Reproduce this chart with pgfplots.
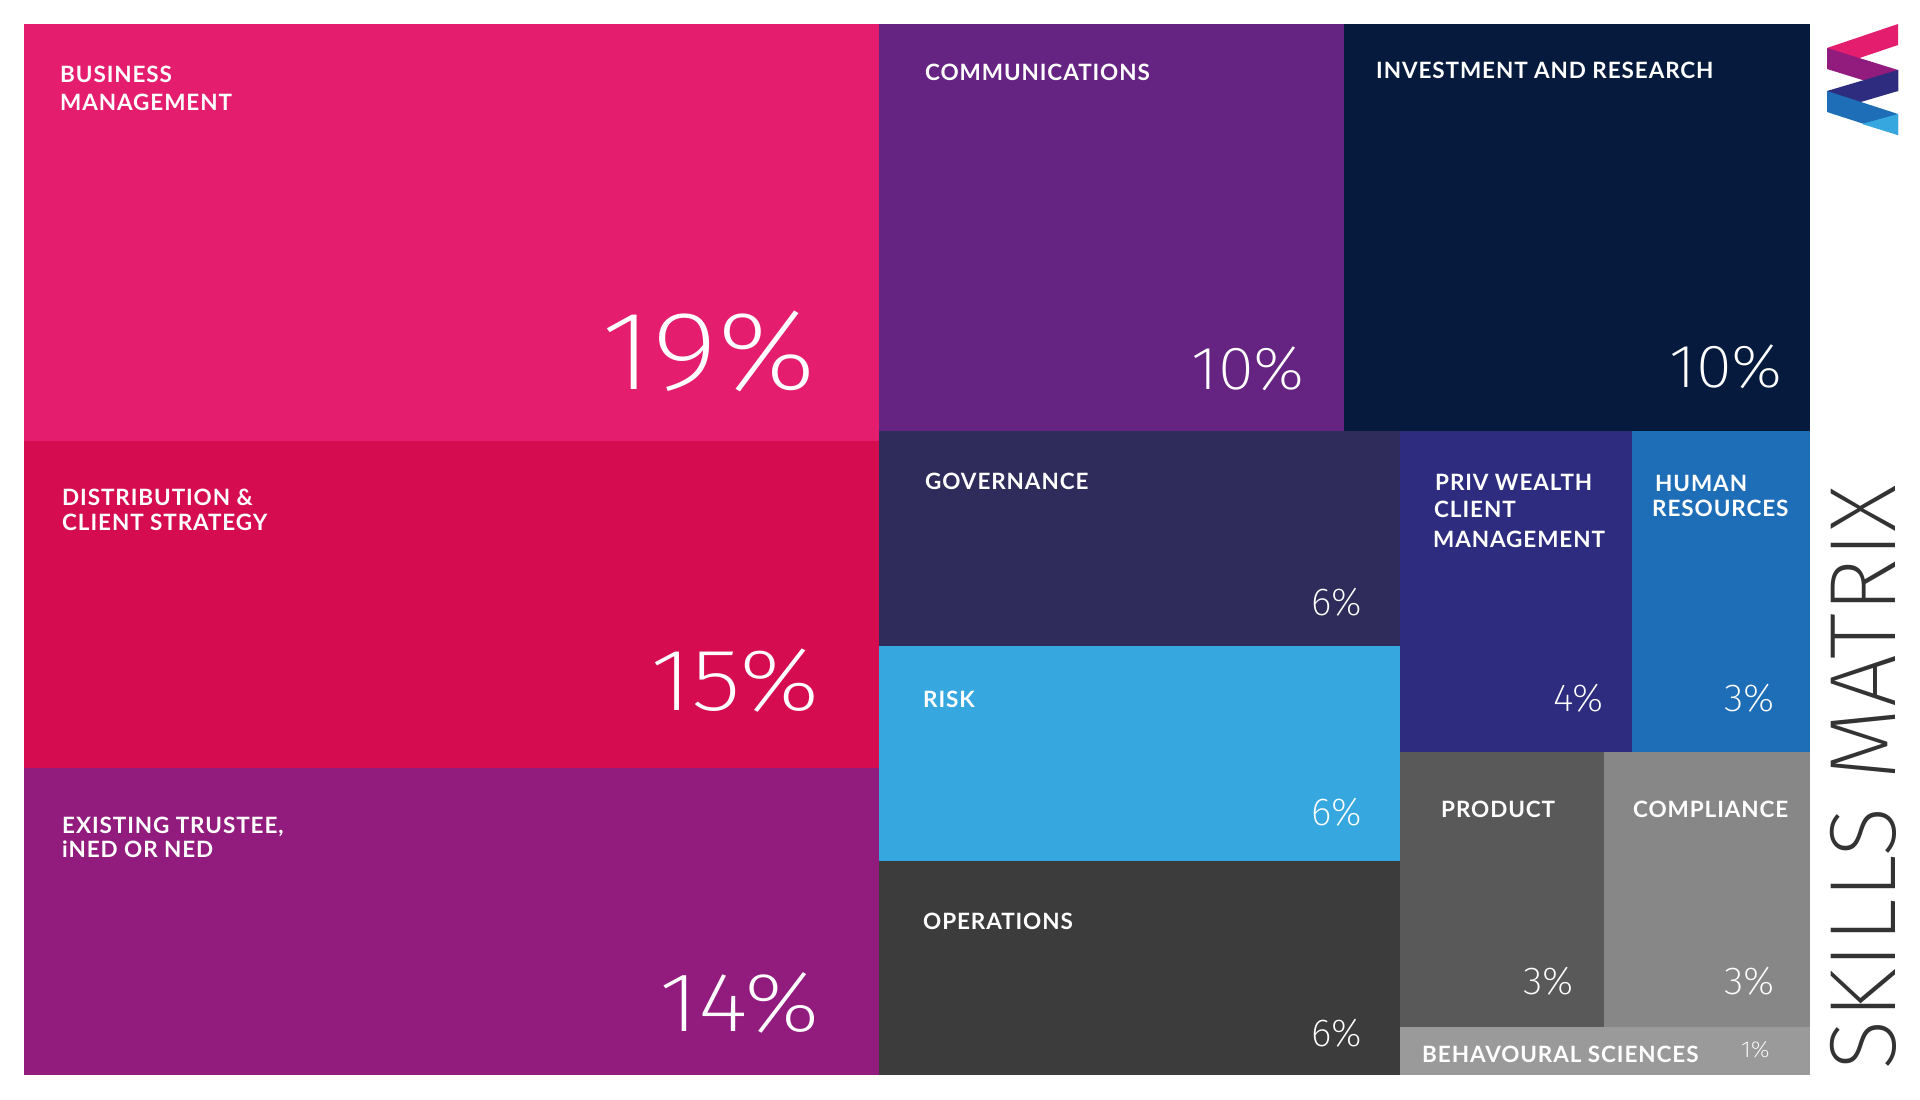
\documentclass[border=0pt]{standalone}
\usepackage{graphicx}
\usepackage{pgfplots}
\pgfplotsset{compat=1.18}
\usepackage{fontspec}
\setmainfont{Lato}
\newfontfamily\labfont{Lato}[LetterSpace=4]
\IfFontExistsTF{Fira Sans ExtraLight}{\newfontfamily\thinfont{Fira Sans ExtraLight}}{%
 \IfFontExistsTF{Fira Sans Light}{\newfontfamily\thinfont{Fira Sans Light}}{%
  \IfFontExistsTF{Lato Light}{\newfontfamily\thinfont{Lato Light}}{%
   \newfontfamily\thinfont{Fira Sans}}}}
\definecolor{cBM}{HTML}{E51D6E}
\definecolor{cDI}{HTML}{D60C50}
\definecolor{cEX}{HTML}{921C7E}
\definecolor{cCO}{HTML}{652382}
\definecolor{cIN}{HTML}{061A3D}
\definecolor{cGO}{HTML}{2F2B5A}
\definecolor{cRI}{HTML}{36A8DF}
\definecolor{cOP}{HTML}{3C3C3C}
\definecolor{cPW}{HTML}{2D2C7E}
\definecolor{cHR}{HTML}{1E6EB7}
\definecolor{cPR}{HTML}{595959}
\definecolor{cCM}{HTML}{878787}
\definecolor{cBS}{HTML}{9A9A9A}
\newcommand{\lab}{\labfont\fontsize{22.5}{26}\selectfont\bfseries}
\newcommand{\pct}[3]{\thinfont\fontsize{#1}{#1}\selectfont\scalebox{#2}[1]{#3}}
\begin{document}
\begin{tikzpicture}
\begin{axis}[scale only axis, width=1920pt, height=1100pt,
  xmin=0, xmax=1920, ymin=0, ymax=1100, y dir=reverse,
  hide axis, clip=false]
\fill[white] (axis cs:0,0) rectangle (axis cs:1920,1100);
% treemap cells (x0,y0)-(x1,y1) in pixel units
\addplot[fill=cBM, draw=none] coordinates {(24,24) (879,24) (879,441) (24,441)} --cycle;
\addplot[fill=cDI, draw=none] coordinates {(24,441) (879,441) (879,768) (24,768)} --cycle;
\addplot[fill=cEX, draw=none] coordinates {(24,768) (879,768) (879,1075) (24,1075)} --cycle;
\addplot[fill=cCO, draw=none] coordinates {(879,24) (1344,24) (1344,431) (879,431)} --cycle;
\addplot[fill=cIN, draw=none] coordinates {(1344,24) (1810,24) (1810,431) (1344,431)} --cycle;
\addplot[fill=cGO, draw=none] coordinates {(879,431) (1400,431) (1400,646) (879,646)} --cycle;
\addplot[fill=cRI, draw=none] coordinates {(879,646) (1400,646) (1400,861) (879,861)} --cycle;
\addplot[fill=cOP, draw=none] coordinates {(879,861) (1400,861) (1400,1075) (879,1075)} --cycle;
\addplot[fill=cPW, draw=none] coordinates {(1400,431) (1632,431) (1632,752) (1400,752)} --cycle;
\addplot[fill=cHR, draw=none] coordinates {(1632,431) (1810,431) (1810,752) (1632,752)} --cycle;
\addplot[fill=cPR, draw=none] coordinates {(1400,752) (1604,752) (1604,1027) (1400,1027)} --cycle;
\addplot[fill=cCM, draw=none] coordinates {(1604,752) (1810,752) (1810,1027) (1604,1027)} --cycle;
\addplot[fill=cBS, draw=none] coordinates {(1400,1027) (1810,1027) (1810,1075) (1400,1075)} --cycle;
% labels
\begin{scope}[every node/.style={anchor=base west, text=white, inner sep=0pt, font=\lab}]
\node at (axis cs:60,82) {BUSINESS};
\node at (axis cs:60,110) {MANAGEMENT};
\node at (axis cs:62,505) {DISTRIBUTION \&};
\node at (axis cs:62,530) {CLIENT STRATEGY};
\node at (axis cs:62,833) {EXISTING TRUSTEE,};
\node at (axis cs:62,857) {iNED OR NED};
\node at (axis cs:925,80) {COMMUNICATIONS};
\node at (axis cs:1376,78) {INVESTMENT AND RESEARCH};
\node at (axis cs:925,489) {GOVERNANCE};
\node at (axis cs:923,707) {RISK};
\node at (axis cs:923,929) {OPERATIONS};
\node at (axis cs:1435,490) {PRIV WEALTH};
\node at (axis cs:1434,517) {CLIENT};
\node at (axis cs:1433,547) {MANAGEMENT};
\node at (axis cs:1655,491) {HUMAN};
\node at (axis cs:1652,516) {RESOURCES};
\node at (axis cs:1441,817) {PRODUCT};
\node at (axis cs:1633,817) {COMPLIANCE};
\node at (axis cs:1422,1062) {BEHAVOURAL SCIENCES};
\end{scope}
% percentages
\begin{scope}[every node/.style={anchor=base east, text=white, inner sep=0pt}]
\node at (axis cs:817,389) {\pct{112}{1.13}{19\%}};
\node at (axis cs:820,710) {\pct{88}{1.17}{15\%}};
\node at (axis cs:820,1031) {\pct{84}{1.15}{14\%}};
\node at (axis cs:1305,389) {\pct{61}{1.07}{10\%}};
\node at (axis cs:1783,387) {\pct{61}{1.07}{10\%}};
\node at (axis cs:1362,615) {\pct{39}{1}{6\%}};
\node at (axis cs:1362,825) {\pct{39}{1}{6\%}};
\node at (axis cs:1362,1046) {\pct{39}{1}{6\%}};
\node at (axis cs:1604,711) {\pct{39}{1.02}{4\%}};
\node at (axis cs:1775,711) {\pct{39}{1.02}{3\%}};
\node at (axis cs:1574,994) {\pct{39}{1.02}{3\%}};
\node at (axis cs:1775,994) {\pct{39}{1.02}{3\%}};
\node at (axis cs:1770,1057) {\pct{23}{1.05}{1\%}};
\end{scope}
% vertical title
\node[rotate=90, anchor=base, inner sep=0pt, text=black!80, font=\thinfont\fontsize{94}{94}\selectfont] at (axis cs:1895,778) {SKILLS MATRIX};
% logo
\fill[cBM] (axis cs:1898,24) -- (axis cs:1898,45) -- (axis cs:1827,69) -- (axis cs:1827,48) -- cycle;
\fill[cEX] (axis cs:1827,48) -- (axis cs:1827,69) -- (axis cs:1898,91) -- (axis cs:1898,70) -- cycle;
\fill[cIN] (axis cs:1898,70) -- (axis cs:1898,91) -- (axis cs:1862,91) -- cycle;
\fill[cPW] (axis cs:1898,70) -- (axis cs:1898,91) -- (axis cs:1827,112) -- (axis cs:1827,91) -- cycle;
\fill[cHR] (axis cs:1827,91) -- (axis cs:1827,112) -- (axis cs:1898,135) -- (axis cs:1898,114) -- cycle;
\fill[cRI] (axis cs:1862,124) -- (axis cs:1898,114) -- (axis cs:1898,135) -- cycle;
\end{axis}
\end{tikzpicture}
\end{document}
